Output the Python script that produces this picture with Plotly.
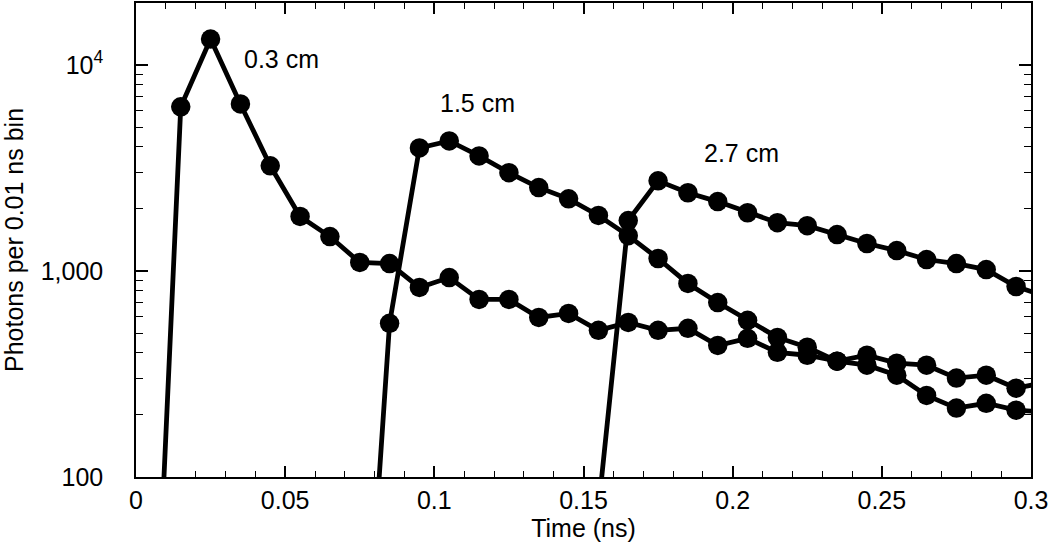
import math
import plotly.graph_objects as go

# Bin centres (ns) and photon counts per 0.01 ns bin
t_03 = [0.005, 0.015, 0.025, 0.035, 0.045, 0.055, 0.065, 0.075, 0.085, 0.095,
        0.105, 0.115, 0.125, 0.135, 0.145, 0.155, 0.165, 0.175, 0.185, 0.195,
        0.205, 0.215, 0.225, 0.235, 0.245, 0.255, 0.265, 0.275, 0.285, 0.295, 0.305]
n_03 = [4, 6270, 13360, 6470, 3240, 1840, 1470, 1100, 1087, 832,
        929, 728, 728, 595, 622, 515, 563, 515, 527, 435,
        471, 403, 390, 365, 390, 357, 349, 302, 312, 270, 288]

t_15 = [0.075, 0.085, 0.095, 0.105, 0.115, 0.125, 0.135, 0.145, 0.155, 0.165,
        0.175, 0.185, 0.195, 0.205, 0.215, 0.225, 0.235, 0.245, 0.255, 0.265,
        0.275, 0.285, 0.295, 0.305]
n_15 = [4, 557, 3960, 4280, 3620, 3000, 2540, 2240, 1860, 1485,
        1150, 870, 703, 576, 476, 427, 365, 349, 312, 249,
        216, 228, 211, 207]

t_27 = [0.155, 0.165, 0.175, 0.185, 0.195, 0.205, 0.215, 0.225, 0.235, 0.245,
        0.255, 0.265, 0.275, 0.285, 0.295, 0.305]
n_27 = [70, 1758, 2740, 2398, 2172, 1918, 1717, 1660, 1503, 1360,
        1256, 1137, 1087, 1016, 841, 753]

series_labels = ["0.3 cm", "1.5 cm", "2.7 cm"]
label_x = [0.0489, 0.1143, 0.2028]
label_y = [10700, 6550, 3750]

x_ticks = [0, 0.05, 0.1, 0.15, 0.2, 0.25, 0.3]
x_ticktext = ["0", "0.05", "0.1", "0.15", "0.2", "0.25", "0.3"]
y_ticks = [100, 1000, 10000]
y_ticktext = ["100", "1,000", "10<sup>4</sup>"]
y_minor = [200, 300, 400, 500, 600, 700, 800, 900,
           2000, 3000, 4000, 5000, 6000, 7000, 8000, 9000, 20000]

FONT = "Liberation Sans, Arial, Helvetica, sans-serif"
FS = 25

fig = go.Figure()
for tx, ny, name in zip([t_03, t_15, t_27], [n_03, n_15, n_27], series_labels):
    fig.add_trace(go.Scatter(
        x=tx, y=ny, mode="lines+markers", name=name,
        line=dict(color="black", width=4.8),
        marker=dict(color="black", size=19.5),
        cliponaxis=True, showlegend=False))

for lx, ly, txt in zip(label_x, label_y, series_labels):
    fig.add_annotation(x=lx, y=math.log10(ly), xref="x", yref="y", text=txt,
                       showarrow=False, font=dict(size=FS, color="black", family=FONT))

fig.update_xaxes(
    range=[0, 0.3], tickvals=x_ticks, ticktext=x_ticktext,
    ticks="inside", ticklen=11, tickwidth=1.5, tickcolor="black",
    minor=dict(dtick=0.01, ticks="inside", ticklen=6, tickwidth=1.2, tickcolor="black"),
    showline=True, linecolor="black", linewidth=1.5, mirror="allticks",
    showgrid=False, zeroline=False,
    tickfont=dict(size=FS, color="black", family=FONT),
    title=dict(text="Time (ns)", font=dict(size=FS, color="black", family=FONT), standoff=6))

fig.update_yaxes(
    type="log", range=[2, 4.301], tickvals=y_ticks, ticktext=y_ticktext,
    ticks="inside", ticklen=12, tickwidth=1.5, tickcolor="black",
    minor=dict(tickmode="array", tickvals=y_minor, ticks="inside", ticklen=7,
               tickwidth=1.2, tickcolor="black"),
    showline=True, linecolor="black", linewidth=1.5, mirror="allticks",
    showgrid=False, zeroline=False, ticklabelstandoff=26,
    tickfont=dict(size=FS, color="black", family=FONT),
    title=dict(text="Photons per 0.01 ns bin", font=dict(size=FS, color="black", family=FONT), standoff=20))

fig.update_layout(
    width=1050, height=547,
    margin=dict(l=136, r=19, t=3, b=70, autoexpand=False),
    paper_bgcolor="white", plot_bgcolor="white",
    font=dict(family=FONT, color="black"))

fig.write_html("out.html", config={"displayModeBar": False},
               post_script="document.body.style.margin='0';")
